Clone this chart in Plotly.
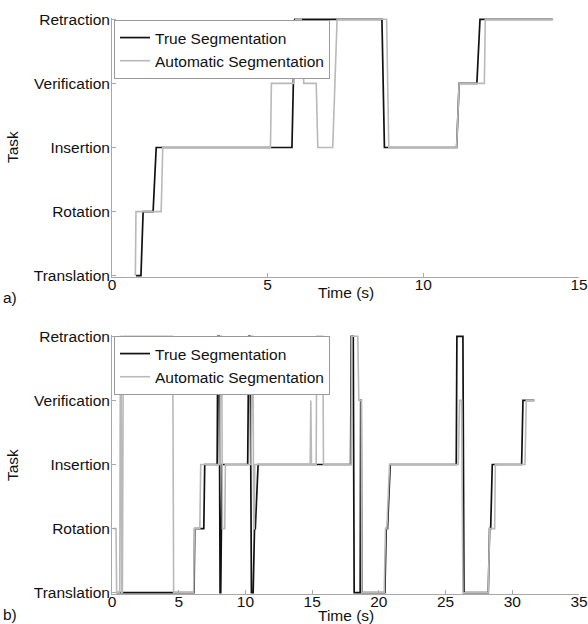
import plotly.graph_objects as go

task_labels = ["Translation", "Rotation", "Insertion", "Verification", "Retraction"]

# ---- trial a) ----
a_true_t = [0.77, 0.93, 1.00, 1.32, 1.42, 5.78, 5.87, 8.67, 8.75, 11.07, 11.15, 11.72, 11.82, 14.15]
a_true_y = [0, 0, 1, 1, 2, 2, 4, 4, 2, 2, 3, 3, 4, 4]
a_auto_t = [0.75, 0.77, 1.58, 1.63, 5.09, 5.12, 5.84, 5.90, 6.08, 6.16, 6.56, 6.61, 7.09, 7.15, 7.23,
            8.82, 8.89, 11.07, 11.15, 11.96, 11.99, 14.15]
a_auto_y = [0, 1, 1, 2, 2, 3, 3, 4, 4, 3, 3, 2, 2, 3, 4, 4, 2, 2, 3, 3, 4, 4]

# ---- trial b) ----
b_true_t = [0.35, 6.15, 6.20, 6.88, 6.95, 7.88, 7.93, 8.03, 8.10, 8.15, 8.25,
            10.17, 10.25, 10.35, 10.45, 10.58, 10.68, 10.74, 10.95,
            17.88, 17.93, 18.08, 18.15, 18.60, 18.64, 18.68, 18.72,
            20.45, 20.55, 20.65, 20.85, 25.80, 25.85, 26.30, 26.38,
            28.20, 28.30, 28.38, 28.50, 30.70, 30.80, 31.65]
b_true_y = [0, 0, 1, 1, 2, 2, 4, 4, 0, 0, 2,
            2, 4, 4, 0, 0, 1, 1, 2,
            2, 4, 4, 0, 0, 3, 3, 0,
            0, 1, 1, 2, 2, 4, 4, 0,
            0, 1, 1, 2, 2, 3, 3]
b_auto_t = [0.10, 0.30, 0.35, 0.58, 0.63, 0.68, 0.73, 0.78, 0.85, 4.55, 4.62, 6.12, 6.17, 6.58, 6.65,
            8.08, 8.15, 8.22, 8.28, 8.45, 8.50,
            10.42, 10.50, 10.56, 10.62, 10.66, 10.70,
            14.85, 14.90, 14.95, 15.30, 15.35, 15.80, 15.85,
            17.92, 17.97, 18.42, 18.50, 18.68, 18.72,
            20.40, 20.50, 20.60, 20.80, 25.95, 26.05, 26.20, 26.30,
            28.20, 28.30, 28.68, 28.73, 30.95, 31.05, 31.65]
b_auto_y = [1, 1, 0, 0, 4, 4, 0, 0, 4, 4, 0, 0, 1, 1, 2,
            2, 4, 4, 1, 1, 2,
            2, 4, 4, 1, 1, 2,
            2, 3, 2, 2, 4, 4, 2,
            2, 4, 4, 3, 3, 0,
            0, 1, 1, 2, 2, 3, 3, 0,
            0, 1, 1, 2, 2, 3, 3]

FONT = "Liberation Sans, Arial, sans-serif"
FS = 15.5
BLACK = "#111111"
GRAY = "#b9b9b9"
AXIS = "#a8a8a8"

fig = go.Figure()
fig.add_trace(go.Scatter(x=a_true_t, y=a_true_y, mode="lines", name="True Segmentation",
                         line=dict(color=BLACK, width=1.7), xaxis="x", yaxis="y", legend="legend"))
fig.add_trace(go.Scatter(x=a_auto_t, y=a_auto_y, mode="lines", name="Automatic Segmentation",
                         line=dict(color=GRAY, width=1.6), xaxis="x", yaxis="y", legend="legend"))
fig.add_trace(go.Scatter(x=b_true_t, y=b_true_y, mode="lines", name="True Segmentation",
                         line=dict(color=BLACK, width=1.7), xaxis="x2", yaxis="y2", legend="legend2"))
fig.add_trace(go.Scatter(x=b_auto_t, y=b_auto_y, mode="lines", name="Automatic Segmentation",
                         line=dict(color=GRAY, width=1.6), xaxis="x2", yaxis="y2", legend="legend2"))

W, H = 588, 624
xdom = [112 / W, 579 / W]

common_x = dict(showgrid=False, zeroline=False, showline=True, linecolor=AXIS, linewidth=1,
                ticks="inside", ticklen=4, tickcolor=AXIS, tickfont=dict(family=FONT, size=FS, color=BLACK),
                domain=xdom, fixedrange=True, automargin=False, ticklabelstandoff=-7)
common_y = dict(showgrid=False, zeroline=False, showline=True, linecolor=AXIS, linewidth=1,
                ticks="inside", ticklen=4, tickcolor=AXIS, tickfont=dict(family=FONT, size=FS, color=BLACK),
                tickmode="array", tickvals=list(range(len(task_labels))), ticktext=task_labels,
                range=[-0.02, 4.02], fixedrange=True, automargin=False, ticklabelstandoff=-2)

legend_common = dict(bgcolor="white", bordercolor="#9a9a9a", borderwidth=1,
                     font=dict(family=FONT, size=FS, color=BLACK), xanchor="left", yanchor="top",
                     itemwidth=30, tracegroupgap=0)

fig.update_layout(
    width=W, height=H, margin=dict(l=0, r=0, t=0, b=0, autoexpand=False),
    paper_bgcolor="white", plot_bgcolor="white",
    showlegend=True,
    xaxis=dict(common_x, range=[0, 15], tickvals=[0, 5, 10, 15], anchor="y"),
    yaxis=dict(common_y, domain=[1 - 277 / H, 1 - 18 / H], anchor="x"),
    xaxis2=dict(common_x, range=[0, 35], tickvals=[0, 5, 10, 15, 20, 25, 30, 35], anchor="y2"),
    yaxis2=dict(common_y, domain=[1 - 594 / H, 1 - 335 / H], anchor="x2"),
    legend=dict(legend_common, x=114 / W, y=1 - 20 / H),
    legend2=dict(legend_common, x=114 / W, y=1 - 336 / H),
)

ann_font = dict(family=FONT, size=FS, color=BLACK)
annotations = [
    dict(text="Time (s)", x=345.5 / W, y=1 - 292 / H),
    dict(text="Time (s)", x=345.5 / W, y=1 - 615 / H),
    dict(text="Task", x=12 / W, y=1 - 147 / H, textangle=-90),
    dict(text="Task", x=12 / W, y=1 - 465 / H, textangle=-90),
    dict(text="a)", x=10 / W, y=1 - 297 / H),
    dict(text="b)", x=10 / W, y=1 - 614 / H),
]
for a in annotations:
    fig.add_annotation(xref="paper", yref="paper", showarrow=False, font=ann_font,
                       xanchor="center", yanchor="middle", **a)

fig.write_html("out.html", config={"displayModeBar": False},
               post_script="document.body.style.margin='0';document.body.style.overflow='hidden';")
